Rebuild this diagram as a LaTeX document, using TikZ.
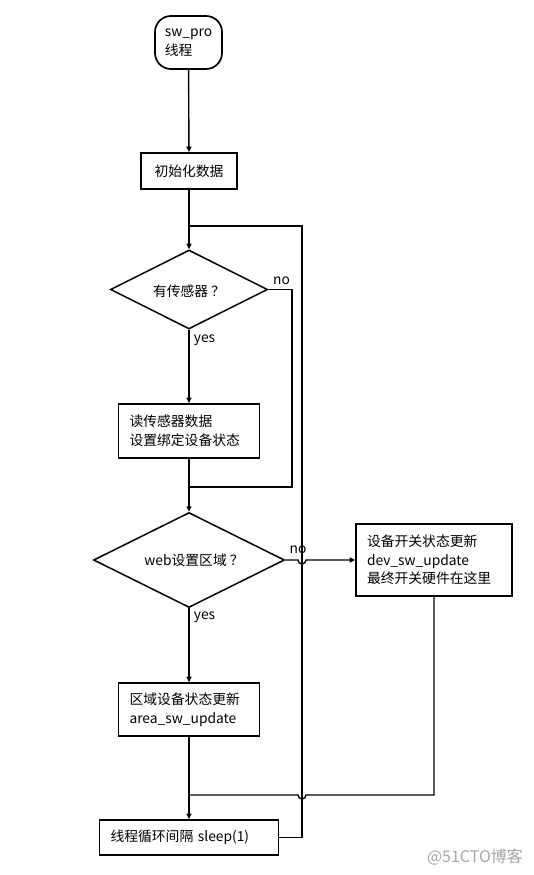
\documentclass[tikz,border=0pt]{standalone}
\usepackage{fontspec}
\setmainfont{Noto Sans CJK SC}
\usetikzlibrary{shapes.geometric,arrows.meta,calc}
\begin{document}
\begin{tikzpicture}[x=1pt,y=-1pt,
  font=\fontsize{13.8}{18.5}\selectfont,
  line/.style={line width=1.4pt},
  arr/.style={line width=1.4pt,-{Triangle[length=5.5pt,width=5pt]}},
  stepbox/.style={draw,line width=1.7pt,rectangle,inner ysep=0pt,inner xsep=0pt,align=left},
  decision/.style={draw,line width=1.5pt,diamond,inner sep=0pt},
  lbl/.style={inner sep=0pt}]
\useasboundingbox (0,0) rectangle (534,875);
% nodes
\node[stepbox,rounded corners=16pt,minimum width=67pt,minimum height=53pt] (start) at (188.5,42.5) {sw\_pro\\线程};
\node[stepbox,minimum width=96pt,minimum height=36pt] (init) at (189,171) {初始化数据};
\node[decision,minimum width=157pt,minimum height=79pt] (d1) at (189,289.5) {};
\node[lbl] (d1t) at (189,291) {有传感器\hspace{3pt}？};
\node[stepbox,minimum width=141pt,minimum height=54pt,text width=119pt] (b2) at (189,431) {读传感器数据\\设置绑定设备状态};
\node[decision,minimum width=191pt,minimum height=95pt] (d2) at (189,560) {};
\node[lbl] (d2t) at (194,560) {web设置区域\hspace{3pt}？};
\node[stepbox,minimum width=156pt,minimum height=72pt,text width=134pt] (b3) at (434,560) {设备开关状态更新\\dev\_sw\_update\\最终开关硬件在这里};
\node[stepbox,minimum width=141pt,minimum height=53pt,text width=119pt] (b4) at (189,709.5) {区域设备状态更新\\area\_sw\_update};
\node[stepbox,minimum width=179pt,minimum height=35pt,text width=157pt] (sleep) at (189,837.5) {线程循环间隔 sleep(1)};
% labels
\node[lbl] (no1) at (281.5,281) {no};
\node[lbl] (no2) at (298,550) {no};
\node[lbl] (yes1) at (204.5,340) {yes};
\node[lbl] (yes2) at (204.5,617) {yes};
\node[lbl,text=gray!70,font=\fontsize{16}{18}\selectfont] (wm) at (475,857) {@51CTO博客};
% helper coordinates
\coordinate (loopTop) at (302,226);
\coordinate (noR1) at (292,487);
\coordinate (joinB) at (189,795);
% connectors
\draw[arr] (start) -- (init);
\draw[arr] (init) -- (d1);
\draw[line] (sleep.east) -| (loopTop) -- (loopTop -| init.south);
\draw[line] (d1.east) -| (noR1) -- (noR1 -| d1.south);
\draw[arr] (d1.south) -- (b2.north);
\draw[arr] (b2) -- (d2);
\draw[arr] (d2.east) -- ($(loopTop |- d2.east)+(-4,0)$) arc[start angle=180,end angle=360,radius=4pt] -- (b3.west);
\draw[line] (b3.south) |- ($(loopTop |- joinB)+(4,0)$) arc[start angle=0,end angle=-180,radius=4pt] -- (joinB);
\draw[arr] (d2.south) -- (b4.north);
\draw[arr] (b4) -- (sleep);
\end{tikzpicture}
\end{document}
